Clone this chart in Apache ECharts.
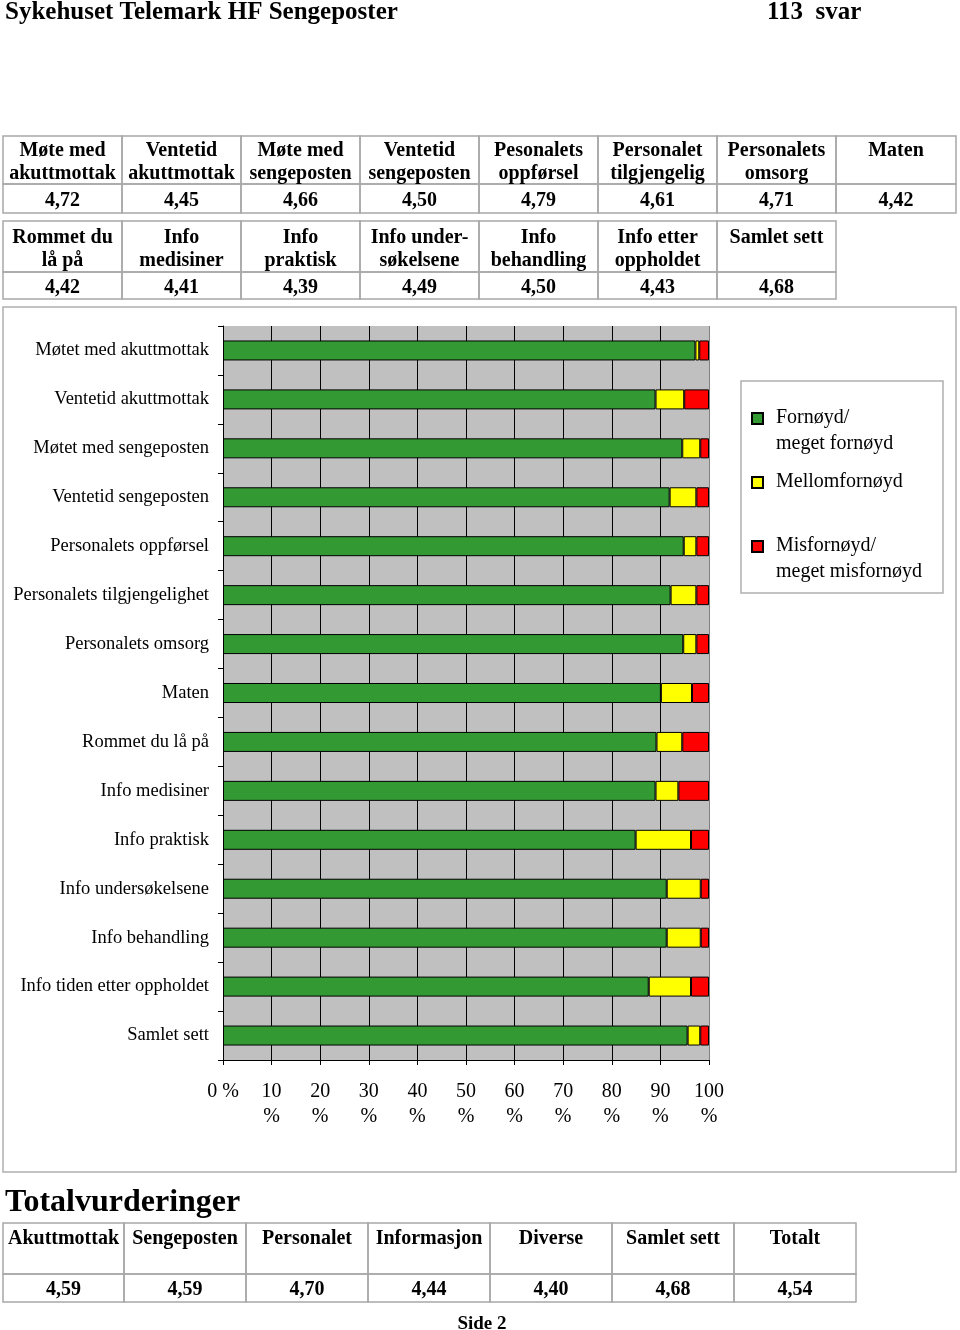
<!DOCTYPE html>
<html>
<head>
<meta charset="utf-8">
<script src="https://cdn.jsdelivr.net/npm/echarts@6/dist/echarts.min.js"></script>
<style>
html,body{margin:0;padding:0;background:#fff;}
#chart{width:960px;height:1330px;}
</style>
</head>
<body>
<div id="chart"></div>
<script>
// ---- Data ----
const titleText = 'Sykehuset Telemark HF Sengeposter';
const answersText = '113  svar';

const table1Headers = ['Møte med\nakuttmottak', 'Ventetid\nakuttmottak', 'Møte med\nsengeposten', 'Ventetid\nsengeposten', 'Pesonalets\noppførsel', 'Personalet\ntilgjengelig', 'Personalets\nomsorg', 'Maten'];
const table1Values = ['4,72', '4,45', '4,66', '4,50', '4,79', '4,61', '4,71', '4,42'];
const table2Headers = ['Rommet du\nlå på', 'Info\nmedisiner', 'Info\npraktisk', 'Info under-\nsøkelsene', 'Info\nbehandling', 'Info etter\noppholdet', 'Samlet sett'];
const table2Values = ['4,42', '4,41', '4,39', '4,49', '4,50', '4,43', '4,68'];

const categories = ['Møtet med akuttmottak', 'Ventetid akuttmottak', 'Møtet med sengeposten', 'Ventetid sengeposten', 'Personalets oppførsel', 'Personalets tilgjengelighet', 'Personalets omsorg', 'Maten', 'Rommet du lå på', 'Info medisiner', 'Info praktisk', 'Info undersøkelsene', 'Info behandling', 'Info tiden etter oppholdet', 'Samlet sett'];
const seriesNames = ['Fornøyd/\nmeget fornøyd', 'Mellomfornøyd\n ', 'Misfornøyd/\nmeget misfornøyd'];
const fornoyd    = [97.2, 89.0, 94.5, 91.9, 94.8, 92.1, 94.7, 90.1, 89.2, 89.0, 84.9, 91.3, 91.3, 87.6, 95.6];
const mellom     = [0.8, 5.9, 3.7, 5.5, 2.6, 5.3, 2.7, 6.4, 5.3, 4.7, 11.4, 7.0, 7.0, 8.7, 2.6];
const misfornoyd = [2.0, 5.1, 1.8, 2.6, 2.6, 2.6, 2.6, 3.5, 5.5, 6.3, 3.7, 1.7, 1.7, 3.7, 1.8];
const xTickLabels = ['0 %', '10\n%', '20\n%', '30\n%', '40\n%', '50\n%', '60\n%', '70\n%', '80\n%', '90\n%', '100\n%'];

const totalTitle = 'Totalvurderinger';
const table3Headers = ['Akuttmottak', 'Sengeposten', 'Personalet', 'Informasjon', 'Diverse', 'Samlet sett', 'Totalt'];
const table3Values = ['4,59', '4,59', '4,70', '4,44', '4,40', '4,68', '4,54'];
const footerText = 'Side 2';

// ---- Rendering ----
const SERIF = '"Liberation Serif", "Times New Roman", serif';
const BORDER = '#a8a8a8';
const graphics = [];

function addText(text, x, y, font, align, vAlign, lineHeight) {
  graphics.push({
    type: 'text', z: 10,
    style: { text: text, x: x, y: y, font: font, fill: '#000', align: align, verticalAlign: vAlign, lineHeight: lineHeight }
  });
}
function addRect(x, y, w, h, stroke, fill, z) {
  graphics.push({
    type: 'rect', z: z || 5,
    shape: { x: x, y: y, width: w, height: h },
    style: { stroke: stroke, fill: fill || 'none', lineWidth: 1.5 }
  });
}
function buildTable(headers, values, edges, top, mid, bottom, headOffset) {
  const bf = 'bold 20px ' + SERIF;
  for (let i = 0; i < headers.length; i++) {
    const x0 = edges[i], x1 = edges[i + 1];
    addRect(x0, top, x1 - x0, mid - top, BORDER);
    addRect(x0, mid, x1 - x0, bottom - mid, BORDER);
    addText(headers[i], (x0 + x1) / 2, top + headOffset, bf, 'center', 'top', 23);
    addText(values[i], (x0 + x1) / 2, (mid + bottom) / 2 + 2, bf, 'center', 'middle', 23);
  }
}

// Titles
addText(titleText, 5, 13, 'bold 25px ' + SERIF, 'left', 'middle');
addText(answersText, 767, 13, 'bold 25px ' + SERIF, 'left', 'middle');

// Top tables
const edges1 = [3, 122, 241, 360, 479, 598, 717, 836, 956];
buildTable(table1Headers, table1Values, edges1, 136, 184, 213, 3);
buildTable(table2Headers, table2Values, edges1.slice(0, 8), 221, 272, 299, 5);

// Chart frame and legend box
addRect(3, 307, 953, 865, '#b0b0b0', 'none', 0);
addRect(741, 381, 202, 212, '#b0b0b0', '#fff', 1);

// Bottom section
addText(totalTitle, 5, 1203, 'bold 32px ' + SERIF, 'left', 'middle');
const edges3 = [3, 124, 246, 368, 490, 612, 734, 856];
buildTable(table3Headers, table3Values, edges3, 1223, 1274, 1302, 4);
addText(footerText, 482, 1324, 'bold 19px ' + SERIF, 'center', 'middle');

const gridLineColors = xTickLabels.map((_, i) => i === xTickLabels.length - 1 ? '#808080' : '#000');

const barColors = ['#339933', '#ffff00', '#ff0000'];
const seriesData = [fornoyd, mellom, misfornoyd];

const option = {
  animation: false,
  backgroundColor: '#fff',
  textStyle: { fontFamily: SERIF },
  grid: { left: 223, top: 326, width: 486, height: 734, show: true, backgroundColor: '#c0c0c0', borderWidth: 0 },
  xAxis: {
    type: 'value', min: 0, max: 100, interval: 10,
    axisLine: { show: true, lineStyle: { color: '#000', width: 1 } },
    axisTick: { show: true, length: 5, lineStyle: { color: '#000' } },
    splitLine: { show: true, lineStyle: { color: gridLineColors, width: 1 } },
    axisLabel: {
      color: '#000', fontFamily: SERIF, fontSize: 20, lineHeight: 25, margin: 19,
      formatter: function (v) { return xTickLabels[Math.round(v / 10)]; }
    }
  },
  yAxis: {
    type: 'category', inverse: true, data: categories,
    axisLine: { show: true, lineStyle: { color: '#000', width: 1 } },
    axisTick: { show: true, length: 5, lineStyle: { color: '#000' } },
    splitLine: { show: false },
    axisLabel: { color: '#000', fontFamily: SERIF, fontSize: 18.5, margin: 14 }
  },
  legend: {
    orient: 'vertical', left: 751, top: 405, padding: 0, itemGap: 12,
    itemWidth: 19, itemHeight: 36,
    icon: 'path://M0,0H11V11H0Z M19,36L19,36',
    textStyle: { color: '#000', fontFamily: SERIF, fontSize: 20, lineHeight: 26 },
    data: seriesNames
  },
  graphic: { elements: graphics },
  series: seriesNames.map((name, i) => ({
    name: name, type: 'bar', stack: 'total', barWidth: 20,
    itemStyle: { color: barColors[i], borderColor: '#000', borderWidth: 1 },
    data: seriesData[i]
  }))
};

const chart = echarts.init(document.getElementById('chart'), null, { renderer: 'canvas' });
chart.setOption(option);
</script>
</body>
</html>
